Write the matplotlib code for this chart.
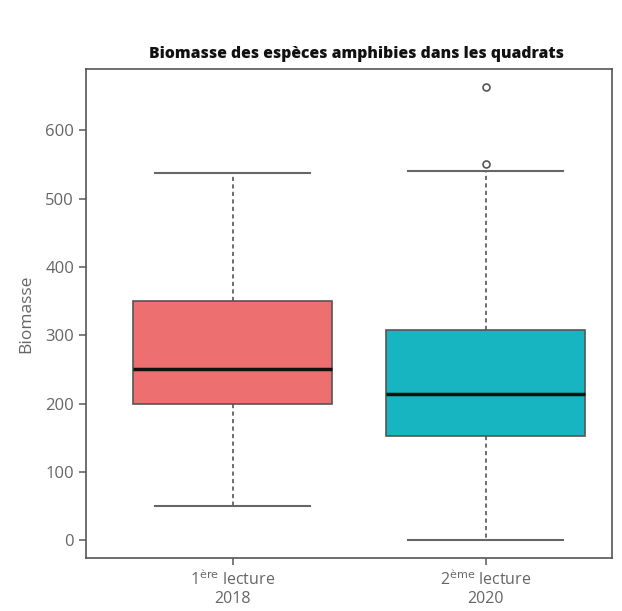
import numpy as np
import matplotlib
matplotlib.use('Agg')
import matplotlib.pyplot as plt

# box statistics
labels = ["1$^{\\mathrm{ère}}$ lecture\n2018", "2$^{\\mathrm{ème}}$ lecture\n2020"]
whislo = [50, 0]
q1 = [200, 152]
med = [250, 214]
q3 = [350, 308]
whishi = [538, 540]
fliers = [[], [551, 664]]
colors = ["#ED6F6F", "#17B4C1"]

plt.rcParams['font.family'] = ['Open Sans', 'DejaVu Sans']

stats = []
for i in range(len(labels)):
    stats.append({'whislo': whislo[i], 'q1': q1[i], 'med': med[i], 'q3': q3[i],
                  'whishi': whishi[i], 'fliers': fliers[i], 'label': labels[i]})

fig = plt.figure(figsize=(6.22, 6.11), dpi=100)
ax = fig.add_axes([0.138, 0.087, 0.846, 0.800])

bp = ax.bxp(stats, positions=[1, 2], widths=0.79, patch_artist=True,
            boxprops=dict(edgecolor='#555555', linewidth=1.2),
            medianprops=dict(color='#111111', linewidth=2.5),
            whiskerprops=dict(color='#555555', linewidth=1.2, linestyle=(0, (2.5, 2))),
            capprops=dict(color='#666666', linewidth=1.5),
            flierprops=dict(marker='o', markersize=5, markerfacecolor='white',
                            markeredgecolor='#555555', markeredgewidth=1.2))
for patch, c in zip(bp['boxes'], colors):
    patch.set_facecolor(c)
# caps a bit narrower than box
for cap in bp['caps']:
    x = cap.get_xdata()
    m = x.mean()
    cap.set_xdata([m - 0.305, m + 0.305])

ax.set_xlim(0.42, 2.5)
ax.set_ylim(-26, 690)
ax.set_yticks([0, 100, 200, 300, 400, 500, 600])
ax.set_ylabel("Biomasse", color='#666666', fontsize=12.5, labelpad=8)
ax.set_title("Biomasse des espèces amphibies dans les quadrats",
             fontweight='heavy', fontsize=11.3, color='#111111', pad=8, x=0.515)
ax.tick_params(colors='#666666', labelsize=12, length=5, width=1.2)
ax.tick_params(axis='x', labelsize=11.5)
for s in ax.spines.values():
    s.set_color('#555555')
    s.set_linewidth(1.2)

fig.savefig("out.png", dpi=100)
